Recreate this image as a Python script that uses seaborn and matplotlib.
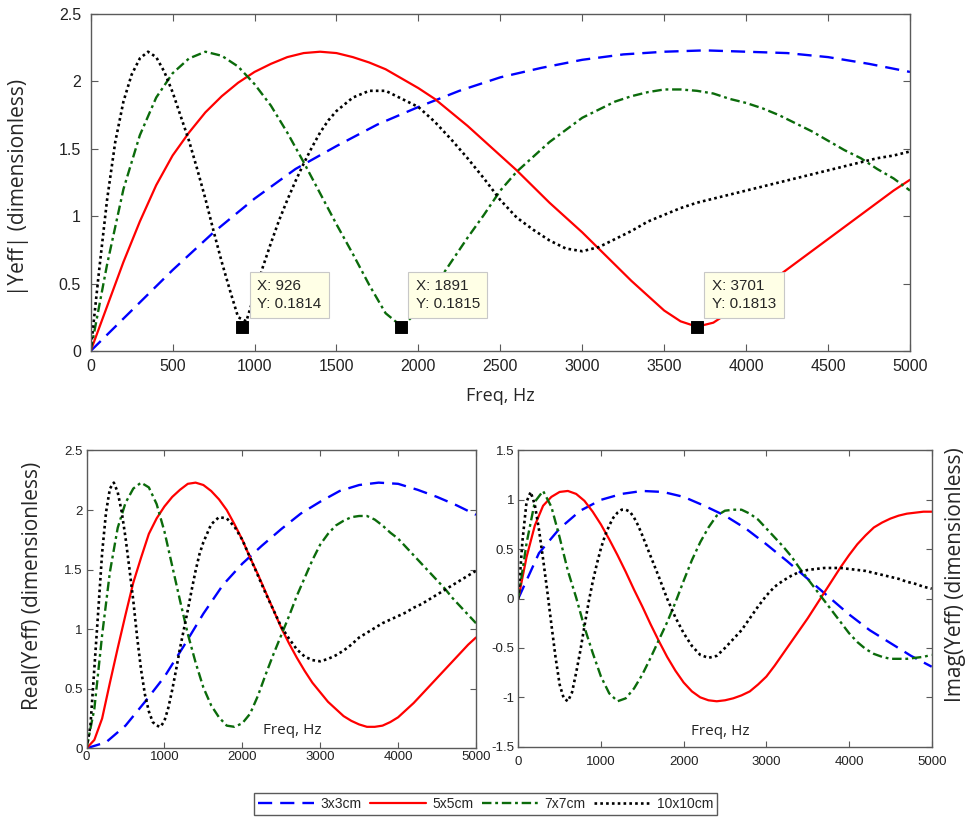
import numpy as np
import matplotlib
matplotlib.use("Agg")
import matplotlib.pyplot as plt
from matplotlib.ticker import FuncFormatter, MultipleLocator
import seaborn as sns

# Frequency grids (Hz)
freq_3 = np.arange(0, 5001, 250)
freq_57 = np.arange(0, 5001, 100)
freq_10 = np.concatenate([np.arange(0, 1501, 50), np.arange(1600, 5001, 100)])

sizes = ["3x3cm", "5x5cm", "7x7cm", "10x10cm"]

# |Yeff| (top panel)
mag_3 = [0, 0.30, 0.60, 0.88, 1.13, 1.35, 1.52, 1.68, 1.81, 1.93, 2.03,
         2.10, 2.16, 2.20, 2.22, 2.23, 2.22, 2.21, 2.18, 2.13, 2.07]
mag_5 = [0, 0.33, 0.66, 0.96, 1.23, 1.45, 1.62, 1.77, 1.89, 1.99,
         2.07, 2.13, 2.18, 2.21, 2.22, 2.21, 2.18, 2.14, 2.09, 2.02,
         1.95, 1.87, 1.77, 1.67, 1.56, 1.45, 1.34, 1.22, 1.10, 0.99,
         0.88, 0.76, 0.64, 0.52, 0.41, 0.30, 0.22, 0.18, 0.21, 0.29,
         0.38, 0.47, 0.56, 0.65, 0.74, 0.83, 0.92, 1.01, 1.10, 1.19,
         1.27]
mag_7 = [0, 0.64, 1.20, 1.60, 1.88, 2.06, 2.17, 2.22, 2.19, 2.11,
         1.98, 1.82, 1.62, 1.40, 1.17, 0.94, 0.72, 0.49, 0.28, 0.18,
         0.30, 0.48, 0.66, 0.84, 1.01, 1.19, 1.33, 1.44, 1.55, 1.64,
         1.73, 1.79, 1.85, 1.89, 1.92, 1.94, 1.94, 1.93, 1.91, 1.87,
         1.84, 1.80, 1.75, 1.69, 1.63, 1.56, 1.49, 1.43, 1.35, 1.28,
         1.19]
mag_10 = [0, 0.58, 1.12, 1.55, 1.85, 2.05, 2.17, 2.22, 2.18, 2.07,
          1.92, 1.74, 1.56, 1.35, 1.13, 0.89, 0.66, 0.45, 0.25, 0.22,
          0.42, 0.62, 0.80, 0.97, 1.12, 1.26, 1.39, 1.51, 1.62, 1.71,
          1.78,
          1.88, 1.93, 1.93, 1.87, 1.81, 1.70, 1.57, 1.43, 1.28, 1.12,
          0.99, 0.90, 0.82, 0.76, 0.74, 0.77, 0.83, 0.89, 0.96, 1.01,
          1.06, 1.10, 1.13, 1.16, 1.19, 1.22, 1.25, 1.28, 1.31, 1.34,
          1.37, 1.40, 1.43, 1.45, 1.48]

# Real(Yeff)
re_3 = [0, 0.05, 0.19, 0.39, 0.60, 0.86, 1.13, 1.37, 1.55, 1.70, 1.84,
        1.97, 2.07, 2.16, 2.21, 2.23, 2.22, 2.17, 2.11, 2.04, 1.96]
re_5 = [0, 0.07, 0.25, 0.55, 0.84, 1.12, 1.39, 1.60, 1.80, 1.93,
        2.03, 2.11, 2.17, 2.22, 2.23, 2.21, 2.16, 2.09, 2.00, 1.88,
        1.75, 1.60, 1.46, 1.31, 1.16, 1.01, 0.88, 0.76, 0.65, 0.55,
        0.47, 0.39, 0.33, 0.27, 0.23, 0.20, 0.18, 0.18, 0.19, 0.22,
        0.26, 0.32, 0.38, 0.45, 0.52, 0.59, 0.66, 0.73, 0.80, 0.87,
        0.93]
re_7 = [0, 0.33, 0.95, 1.48, 1.85, 2.06, 2.18, 2.23, 2.19, 2.05,
        1.82, 1.53, 1.24, 0.96, 0.72, 0.51, 0.36, 0.26, 0.19, 0.18,
        0.21, 0.29, 0.44, 0.62, 0.79, 0.95, 1.11, 1.28, 1.43, 1.58,
        1.71, 1.80, 1.87, 1.91, 1.94, 1.95, 1.95, 1.92, 1.87, 1.81,
        1.76, 1.69, 1.62, 1.55, 1.48, 1.41, 1.34, 1.26, 1.19, 1.12,
        1.05]
re_10 = [0, 0.19, 0.67, 1.15, 1.64, 1.98, 2.18, 2.23, 2.15, 1.99,
         1.77, 1.51, 1.24, 0.93, 0.66, 0.45, 0.31, 0.22, 0.19, 0.18,
         0.23, 0.34, 0.49, 0.66, 0.84, 1.00, 1.16, 1.33, 1.49, 1.63,
         1.73,
         1.88, 1.94, 1.93, 1.86, 1.75, 1.60, 1.45, 1.30, 1.16, 1.02,
         0.92, 0.83, 0.77, 0.74, 0.73, 0.75, 0.78, 0.82, 0.87, 0.93,
         0.97, 1.01, 1.05, 1.08, 1.11, 1.14, 1.18, 1.21, 1.25, 1.29,
         1.33, 1.37, 1.41, 1.45, 1.49]

# Imag(Yeff)
im_3 = [0, 0.46, 0.71, 0.89, 1.00, 1.06, 1.09, 1.08, 1.03, 0.94, 0.84,
        0.71, 0.55, 0.38, 0.20, 0.02, -0.16, -0.32, -0.45, -0.58, -0.69]
im_5 = [0, 0.42, 0.74, 0.94, 1.03, 1.08, 1.09, 1.06, 0.99, 0.88,
        0.75, 0.60, 0.44, 0.27, 0.09, -0.08, -0.26, -0.43, -0.59, -0.73,
        -0.85, -0.94, -1.00, -1.03, -1.04, -1.03, -1.01, -0.98, -0.94, -0.87,
        -0.79, -0.68, -0.56, -0.44, -0.32, -0.20, -0.07, 0.06, 0.19, 0.32,
        0.44, 0.55, 0.64, 0.72, 0.77, 0.81, 0.84, 0.86, 0.87, 0.88,
        0.88]
im_7 = [0, 0.56, 0.98, 1.09, 0.93, 0.62, 0.28, 0.01, -0.29, -0.55,
        -0.79, -0.96, -1.04, -1.01, -0.91, -0.77, -0.60, -0.42, -0.24, -0.04,
        0.18, 0.39, 0.57, 0.72, 0.84, 0.89, 0.90, 0.90, 0.86, 0.80,
        0.71, 0.62, 0.53, 0.43, 0.31, 0.20, 0.09, -0.02, -0.13, -0.24,
        -0.35, -0.44, -0.51, -0.56, -0.59, -0.61, -0.61, -0.61, -0.60, -0.59,
        -0.57]
im_10 = [0, 0.58, 0.98, 1.08, 0.95, 0.70, 0.40, 0.08, -0.26, -0.59,
         -0.87, -1.01, -1.04, -0.95, -0.75, -0.53, -0.28, -0.04, 0.17, 0.35,
         0.51, 0.64, 0.74, 0.82, 0.87, 0.90, 0.90, 0.88, 0.82, 0.74,
         0.64,
         0.43, 0.22, 0.00, -0.19, -0.35, -0.48, -0.57, -0.60, -0.58, -0.50,
         -0.41, -0.32, -0.20, -0.08, 0.03, 0.12, 0.18, 0.23, 0.27, 0.29,
         0.30, 0.31, 0.31, 0.31, 0.30, 0.29, 0.28, 0.26, 0.24, 0.22,
         0.20, 0.17, 0.15, 0.12, 0.10]

# data tips on the top panel
tip_x = [926, 1891, 3701]
tip_y = [0.1814, 0.1815, 0.1813]

sns.set_style("ticks")
plt.rcParams['font.family'] = ['Liberation Sans', 'DejaVu Sans']
label_font = ['Open Sans', 'DejaVu Sans']

colors = ["#0000ff", "#ff0000", "#0b6b0b", "#000000"]
styles = [(0, (6, 3.4)), "-", (0, (4, 1.6, 1.2, 1.6)), (0, (1, 1.2))]
widths = [1.7, 1.6, 1.7, 1.9]
freqs = [freq_3, freq_57, freq_57, freq_10]
edge = "#5a5a5a"

fig = plt.figure(figsize=(9.79, 8.27), dpi=100)
ax_top = fig.add_axes([0.0926, 0.5756, 0.8369, 0.4075])
ax_re = fig.add_axes([0.0884, 0.0952, 0.3978, 0.3601])
ax_im = fig.add_axes([0.5294, 0.0971, 0.4223, 0.3582])


def draw(ax, series):
    for f, v, lab, c, ls, lw in zip(freqs, series, sizes, colors, styles, widths):
        sns.lineplot(x=f, y=v, ax=ax, color=c, linestyle=ls, linewidth=lw,
                     label=lab, legend=False, estimator=None)


def style_axes(ax, ylim, ystep, xstep, size, xpad, ypad, ticklen):
    ax.set_xlim(0, 5000)
    ax.set_ylim(*ylim)
    ax.xaxis.set_major_locator(MultipleLocator(xstep))
    ax.yaxis.set_major_locator(MultipleLocator(ystep))
    fmt = FuncFormatter(lambda v, p: f"{v:g}")
    ax.xaxis.set_major_formatter(fmt)
    ax.yaxis.set_major_formatter(fmt)
    for s in ax.spines.values():
        s.set_color(edge)
        s.set_linewidth(1.0)
    ax.tick_params(direction="in", top=True, right=True, color=edge,
                   length=ticklen, width=0.8, labelsize=size, labelcolor="#222222")
    ax.tick_params(axis="x", pad=xpad)
    ax.tick_params(axis="y", pad=ypad)
    ax.set_xlabel("")
    ax.set_ylabel("")


draw(ax_top, [mag_3, mag_5, mag_7, mag_10])
draw(ax_re, [re_3, re_5, re_7, re_10])
draw(ax_im, [im_3, im_5, im_7, im_10])

style_axes(ax_top, (0, 2.5), 0.5, 500, 11.5, 6, 7, 5)
style_axes(ax_re, (0, 2.5), 0.5, 1000, 9.5, 2, 3, 4)
style_axes(ax_im, (-1.5, 1.5), 0.5, 1000, 9.5, 7, 3, 4)

# data tips
sns.scatterplot(x=tip_x, y=tip_y, ax=ax_top, marker="s", color="black",
                s=70, edgecolor="black", zorder=7, legend=False)
for x, y in zip(tip_x, tip_y):
    ax_top.annotate(f"X: {x}\nY: {y}", xy=(x, y), xytext=(15, 16),
                    textcoords="offset pixels", ha="left", va="bottom",
                    fontsize=11, linespacing=1.3, zorder=6,
                    bbox=dict(boxstyle="square,pad=0.5", fc="#ffffe6",
                              ec="#c8c8c8", lw=0.8))

# labels
ax_top.set_xlabel("Freq, Hz", fontsize=13, family=label_font, labelpad=9)
fig.text(0.019, 0.773, "|Yeff| (dimensionless)", rotation=90, ha="center",
         va="center", fontsize=15, family=label_font)
fig.text(0.0337, 0.2914, "Real(Yeff) (dimensionless)", rotation=90, ha="center",
         va="center", fontsize=15, family=label_font)
fig.text(0.9755, 0.3047, "Imag(Yeff) (dimensionless)", rotation=90, ha="center",
         va="center", fontsize=15, family=label_font)
ax_re.text(0.528, 0.061, "Freq, Hz", transform=ax_re.transAxes, ha="center",
           va="center", fontsize=11, family=label_font)
ax_im.text(0.488, 0.05, "Freq, Hz", transform=ax_im.transAxes, ha="center",
           va="center", fontsize=11, family=label_font)

# legend
handles, labels = ax_top.get_legend_handles_labels()
handles, labels = handles[:4], labels[:4]
leg = fig.legend(handles, labels, loc="center", bbox_to_anchor=(0.496, 0.028),
                 ncol=4, frameon=True, fancybox=False, edgecolor=edge,
                 framealpha=1, fontsize=10, handlelength=4, handletextpad=0.5,
                 columnspacing=0.6, borderpad=0.3)
leg.get_frame().set_linewidth(1.0)

fig.savefig("out.png", dpi=100)
